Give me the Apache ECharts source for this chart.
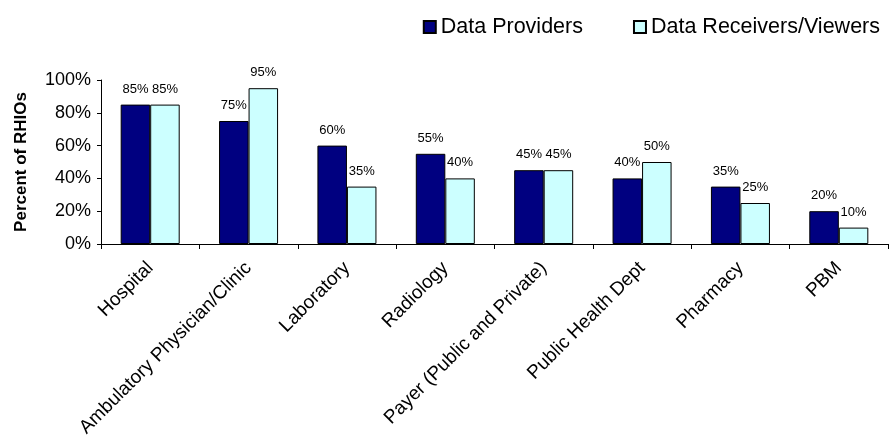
<!DOCTYPE html>
<html>
<head>
<meta charset="utf-8">
<script src="https://cdn.jsdelivr.net/npm/echarts@6/dist/echarts.min.js"></script>
<style>
html, body { margin: 0; padding: 0; background: #fff; }
#main { width: 891px; height: 435px; }
</style>
</head>
<body>
<div id="main"></div>
<script>
var categories = ['Hospital', 'Ambulatory Physician/Clinic', 'Laboratory', 'Radiology',
  'Payer (Public and Private)', 'Public Health Dept', 'Pharmacy', 'PBM'];
var providers = [85, 75, 60, 55, 45, 40, 35, 20];
var receivers = [85, 95, 35, 40, 45, 50, 25, 10];
var yTicks = [0, 20, 40, 60, 80, 100];

var chart = echarts.init(document.getElementById('main'));
var font = 'Liberation Sans, Arial, sans-serif';

function barLabel() {
  return {
    show: true,
    position: 'top',
    distance: 9,
    color: '#000',
    fontSize: 13,
    fontFamily: font,
    formatter: '{c}%'
  };
}

var option = {
  animation: false,
  legend: {
    top: 11,
    right: 6,
    icon: 'rect',
    itemWidth: 12,
    itemHeight: 12,
    itemGap: 50,
    textStyle: { color: '#000', fontSize: 21.5, fontFamily: font },
    data: ['Data Providers', 'Data Receivers/Viewers']
  },
  grid: { left: 101, right: 3, top: 80, bottom: 191, outerBoundsMode: 'none' },
  xAxis: {
    type: 'category',
    data: categories,
    axisLine: { lineStyle: { color: '#000' } },
    axisTick: { show: true, length: 5, lineStyle: { color: '#000' } },
    axisLabel: { color: '#000', fontSize: 19, fontFamily: font, rotate: 45, margin: 21, interval: 0 }
  },
  yAxis: {
    type: 'value',
    min: yTicks[0],
    max: yTicks[yTicks.length - 1],
    interval: 20,
    name: 'Percent of RHIOs',
    nameLocation: 'middle',
    nameGap: 71,
    nameRotate: 90,
    nameTextStyle: { color: '#000', fontSize: 17, fontWeight: 'bold', fontFamily: font },
    axisLine: { show: true, lineStyle: { color: '#000' } },
    axisTick: { show: true, length: 4, lineStyle: { color: '#000' } },
    splitLine: { show: false },
    axisLabel: { color: '#000', fontSize: 18, fontFamily: font, margin: 10, formatter: '{value}%' }
  },
  series: [{
    name: 'Data Providers',
    type: 'bar',
    data: providers,
    barGap: '0%',
    barCategoryGap: '40%',
    itemStyle: { color: '#000080', borderColor: '#000', borderWidth: 1 },
    label: barLabel()
  }, {
    name: 'Data Receivers/Viewers',
    type: 'bar',
    data: receivers,
    itemStyle: { color: '#CCFFFF', borderColor: '#000', borderWidth: 1 },
    label: barLabel()
  }]
};

chart.setOption(option);
</script>
</body>
</html>
